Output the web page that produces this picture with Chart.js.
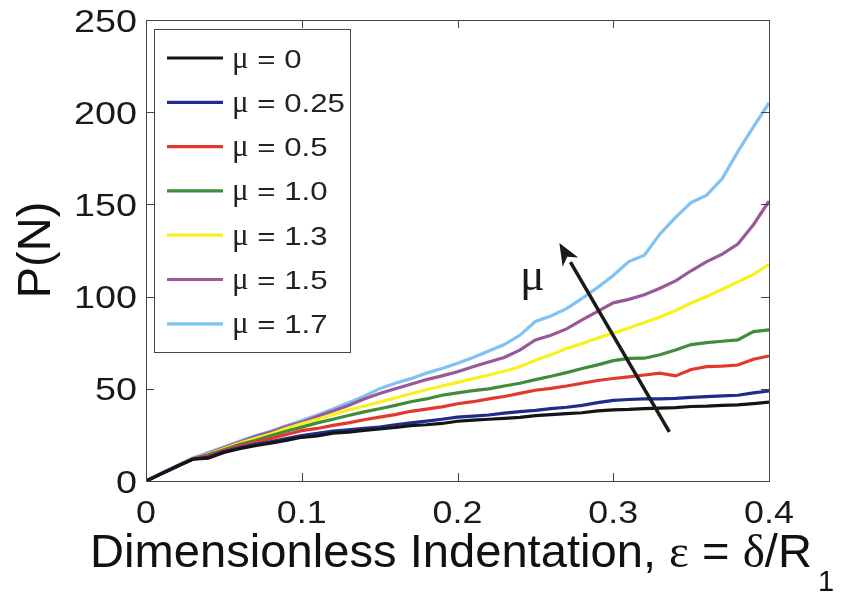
<!DOCTYPE html>
<html>
<head>
<meta charset="utf-8">
<script src="https://cdn.jsdelivr.net/npm/chart.js@4"></script>
<style>
  html, body { margin: 0; padding: 0; background: #fff; }
  #wrap { width: 843px; height: 592px; }
</style>
</head>
<body>
<div id="wrap"><canvas id="plot" width="843" height="592"></canvas></div>
<script>
// indentation values (x), step 0.01
const strain = [];
for (let i = 0; i <= 40; i++) strain.push(+(i * 0.01).toFixed(2));

const muValues = ['0', '0.25', '0.5', '1.0', '1.3', '1.5', '1.7'];
const colors = ['#151515', '#1e2d8c', '#e2392e', '#3f8d3b', '#f7f21e', '#9a5898', '#80c2f4'];

const loadMu0   = [0, 4, 8, 11.8, 12.4, 15.5, 17.5, 19.1, 20.5, 22, 23.7, 24.5, 26, 26.5, 27.5, 28.2, 29, 30, 30.5, 31.2, 32.4, 33, 33.5, 34, 34.5, 35.5, 36, 36.5, 37, 38, 38.6, 38.8, 39.2, 39.5, 39.8, 40.4, 40.6, 41, 41.3, 42, 42.8];
const loadMu025 = [0, 4, 8, 11.8, 13, 16, 18, 19.8, 21.2, 23, 24.6, 25.8, 27, 27.8, 28.5, 29.2, 30.5, 31.5, 32.5, 33.5, 34.6, 35.2, 35.8, 36.8, 37.6, 38.3, 39.2, 40, 41, 42.5, 43.7, 44.2, 44.5, 44.5, 44.8, 45.4, 45.8, 46.2, 46.5, 47.8, 48.8];
const loadMu05  = [0, 4, 8, 12, 13.8, 16.5, 19, 21, 23, 25.2, 27.3, 28.5, 30.2, 31.5, 33.2, 34.6, 36, 37.8, 39, 40.2, 41.9, 43, 44.5, 45.8, 47.5, 49.2, 50.2, 51.5, 53, 54.5, 55.6, 56.5, 57.5, 58.5, 57, 60.5, 62, 62.3, 62.9, 66, 67.8];
const loadMu10  = [0, 4, 8, 12, 14.2, 17, 19.8, 22, 24.5, 27, 29.2, 31.5, 33.5, 35.5, 37.5, 39.2, 41, 43, 44.5, 46.5, 47.8, 49, 50, 51.5, 53, 55, 56.8, 58.8, 61, 63, 65.3, 66.5, 66.6, 68.5, 71, 74, 75, 75.8, 76.5, 81, 82];
const loadMu13  = [0, 4, 8, 12, 14.5, 17.5, 20.5, 23, 25.5, 28.5, 31, 33.5, 36, 38.5, 40.5, 42.8, 45, 47.3, 49.5, 51.5, 53.5, 55.5, 57.5, 59.5, 62, 65.5, 68.5, 71.8, 74.5, 77.5, 80.2, 83, 86, 89, 92.5, 96.5, 100, 104, 108, 112, 117.5];
const loadMu15  = [0, 4, 8, 12, 14.8, 18, 21, 24, 26.5, 29.5, 31.9, 35, 38, 41, 44.5, 47.4, 50, 52.5, 55, 57, 59.2, 62, 64.5, 67, 71, 76.5, 79, 82.5, 87.4, 92, 96.6, 98.5, 101, 104.5, 108.5, 114, 119, 123, 128.5, 139, 151.8];
const loadMu17  = [0, 4.5, 8.5, 12.5, 15.5, 18.5, 21.5, 24.5, 27, 30, 32.8, 35.8, 39, 42.5, 46, 50.1, 53, 55.5, 58.5, 61, 63.8, 67, 70.5, 74, 79, 86.5, 89.5, 93.5, 99, 105, 111.5, 119, 122.5, 134, 143, 151, 155, 164, 178.6, 192, 205];
const series = [loadMu0, loadMu025, loadMu05, loadMu10, loadMu13, loadMu15, loadMu17];

const xTicks = [0, 0.1, 0.2, 0.3, 0.4];
const xTickLabels = ['0', '0.1', '0.2', '0.3', '0.4'];
const yTicks = [0, 50, 100, 150, 200, 250];
const yTickLabels = ['0', '50', '100', '150', '200', '250'];

// arrow for increasing mu, in data units
const arrowTail = { x: 0.336, y: 26.6 };
const arrowHead = { x: 0.2654, y: 129 };
const muLabelPos = { x: 0.248, y: 110 };

const SANS = '"Liberation Sans", Arial, Helvetica, sans-serif';
const SERIF = '"Liberation Serif", "Times New Roman", serif';

const datasets = series.map((vals, k) => ({
    label: '\u03bc = ' + muValues[k],
    data: vals.map((v, i) => ({ x: strain[i], y: v })),
    borderColor: colors[k],
    borderWidth: 3.2,
    pointRadius: 0,
    tension: 0,
    fill: false
}));

// draw text squeezed / stretched horizontally
function wideText(ctx, text, x, y, font, sx, align) {
    ctx.save();
    ctx.font = font;
    const w = ctx.measureText(text).width * sx;
    let left = x;
    if (align === 'right') left = x - w;
    else if (align === 'center') left = x - w / 2;
    ctx.translate(left, y);
    ctx.scale(sx, 1);
    ctx.textAlign = 'left';
    ctx.fillText(text, 0, 0);
    ctx.restore();
    return w;
}

// box, inward ticks, labels, legend, arrow and axis titles (MATLAB look)
const matlabDecor = {
    id: 'matlabDecor',
    afterDatasetsDraw(chart) {
        const ctx = chart.ctx;
        const a = chart.chartArea;
        const xs = chart.scales.x, ys = chart.scales.y;
        ctx.save();

        // frame
        ctx.strokeStyle = '#444';
        ctx.lineWidth = 1;
        ctx.strokeRect(a.left + 0.5, a.top + 0.5, a.right - a.left, a.bottom - a.top);

        // inward ticks
        const tl = 8;
        ctx.beginPath();
        xTicks.forEach(v => {
            const px = Math.round(xs.getPixelForValue(v)) + 0.5;
            ctx.moveTo(px, a.bottom); ctx.lineTo(px, a.bottom - tl);
            ctx.moveTo(px, a.top); ctx.lineTo(px, a.top + tl);
        });
        yTicks.forEach(v => {
            const py = Math.round(ys.getPixelForValue(v)) + 0.5;
            ctx.moveTo(a.left, py); ctx.lineTo(a.left + tl, py);
            ctx.moveTo(a.right, py); ctx.lineTo(a.right - tl, py);
        });
        ctx.stroke();

        // tick labels
        ctx.fillStyle = '#1a1a1a';
        ctx.textBaseline = 'alphabetic';
        xTicks.forEach((v, i) => {
            wideText(ctx, xTickLabels[i], xs.getPixelForValue(v), a.bottom + 42, '32px ' + SANS, 1.12, 'center');
        });
        yTicks.forEach((v, i) => {
            wideText(ctx, yTickLabels[i], a.left - 9, ys.getPixelForValue(v) + 11.5, '32px ' + SANS, 1.18, 'right');
        });

        // arrow
        const tx = xs.getPixelForValue(arrowTail.x), ty = ys.getPixelForValue(arrowTail.y);
        const hx = xs.getPixelForValue(arrowHead.x), hy = ys.getPixelForValue(arrowHead.y);
        const ang = Math.atan2(hy - ty, hx - tx);
        const hl = 22, hw = 9;
        const bx = hx - hl * Math.cos(ang), by = hy - hl * Math.sin(ang);
        ctx.strokeStyle = '#1a1a1a';
        ctx.fillStyle = '#1a1a1a';
        ctx.lineWidth = 3.5;
        ctx.beginPath();
        ctx.moveTo(tx, ty); ctx.lineTo(bx, by);
        ctx.stroke();
        ctx.beginPath();
        ctx.moveTo(hx, hy);
        ctx.lineTo(bx + hw * Math.sin(ang), by - hw * Math.cos(ang));
        ctx.lineTo(hx - 0.72 * hl * Math.cos(ang), hy - 0.72 * hl * Math.sin(ang));
        ctx.lineTo(bx - hw * Math.sin(ang), by + hw * Math.cos(ang));
        ctx.closePath();
        ctx.fill();

        ctx.textBaseline = 'alphabetic';
        wideText(ctx, '\u03bc', xs.getPixelForValue(muLabelPos.x), ys.getPixelForValue(muLabelPos.y) + 12, '46px ' + SERIF, 1.0, 'center');

        // legend
        const lx = 154, ly = 29, lw = 196, lh = 323;
        ctx.fillStyle = '#fff';
        ctx.fillRect(lx, ly, lw, lh);
        ctx.strokeStyle = '#444';
        ctx.lineWidth = 1;
        ctx.strokeRect(lx + 0.5, ly + 0.5, lw, lh);
        chart.data.datasets.forEach((ds, i) => {
            const yy = 58 + i * 44.3;
            ctx.strokeStyle = ds.borderColor;
            ctx.lineWidth = 3.2;
            ctx.beginPath();
            ctx.moveTo(lx + 13, yy); ctx.lineTo(lx + 69, yy);
            ctx.stroke();
            ctx.fillStyle = '#222';
            const base = yy + 9.5;
            const w1 = wideText(ctx, '\u03bc', lx + 78, base, '31px ' + SERIF, 1.0, 'left');
            wideText(ctx, ' = ' + muValues[i], lx + 78 + w1, base, '26px ' + SANS, 1.2, 'left');
        });

        // y title
        ctx.fillStyle = '#111';
        ctx.save();
        ctx.translate(50, 250);
        ctx.rotate(-Math.PI / 2);
        ctx.font = '47px ' + SANS;
        ctx.textAlign = 'center';
        ctx.textBaseline = 'alphabetic';
        ctx.fillText('P(N)', 0, 0);
        ctx.restore();

        // x title, pieces: sans text + serif greek + subscript
        const parts = [
            ['Dimensionless Indentation, ', '46px ' + SANS],
            ['\u03b5', '46px ' + SERIF],
            [' = ', '46px ' + SANS],
            ['\u03b4', '46px ' + SERIF],
            ['/R', '46px ' + SANS]
        ];
        let natural = 0;
        parts.forEach(p => { ctx.font = p[1]; natural += ctx.measureText(p[0]).width; });
        const sx = 722 / natural;
        let cx = 90;
        parts.forEach(p => { cx += wideText(ctx, p[0], cx, 567, p[1], sx, 'left'); });
        wideText(ctx, '1', cx + 6, 591, '29px ' + SANS, 1.0, 'left');

        ctx.restore();
    }
};

new Chart(document.getElementById('plot').getContext('2d'), {
    type: 'line',
    data: { datasets: datasets },
    options: {
        responsive: false,
        animation: false,
        devicePixelRatio: 1,
        layout: { padding: { top: 20, right: 74, left: 0, bottom: 0 } },
        plugins: {
            legend: { display: false },
            tooltip: { enabled: false }
        },
        scales: {
            x: {
                type: 'linear',
                min: 0, max: 0.4,
                afterFit: s => { s.height = 111; },
                afterBuildTicks: s => { s.ticks = xTicks.map(v => ({ value: v })); },
                grid: { display: false, drawTicks: false },
                border: { display: false },
                ticks: { display: false }
            },
            y: {
                min: 0, max: 250,
                afterFit: s => { s.width = 146; },
                afterBuildTicks: s => { s.ticks = yTicks.map(v => ({ value: v })); },
                grid: { display: false, drawTicks: false },
                border: { display: false },
                ticks: { display: false }
            }
        }
    },
    plugins: [matlabDecor]
});
</script>
</body>
</html>
